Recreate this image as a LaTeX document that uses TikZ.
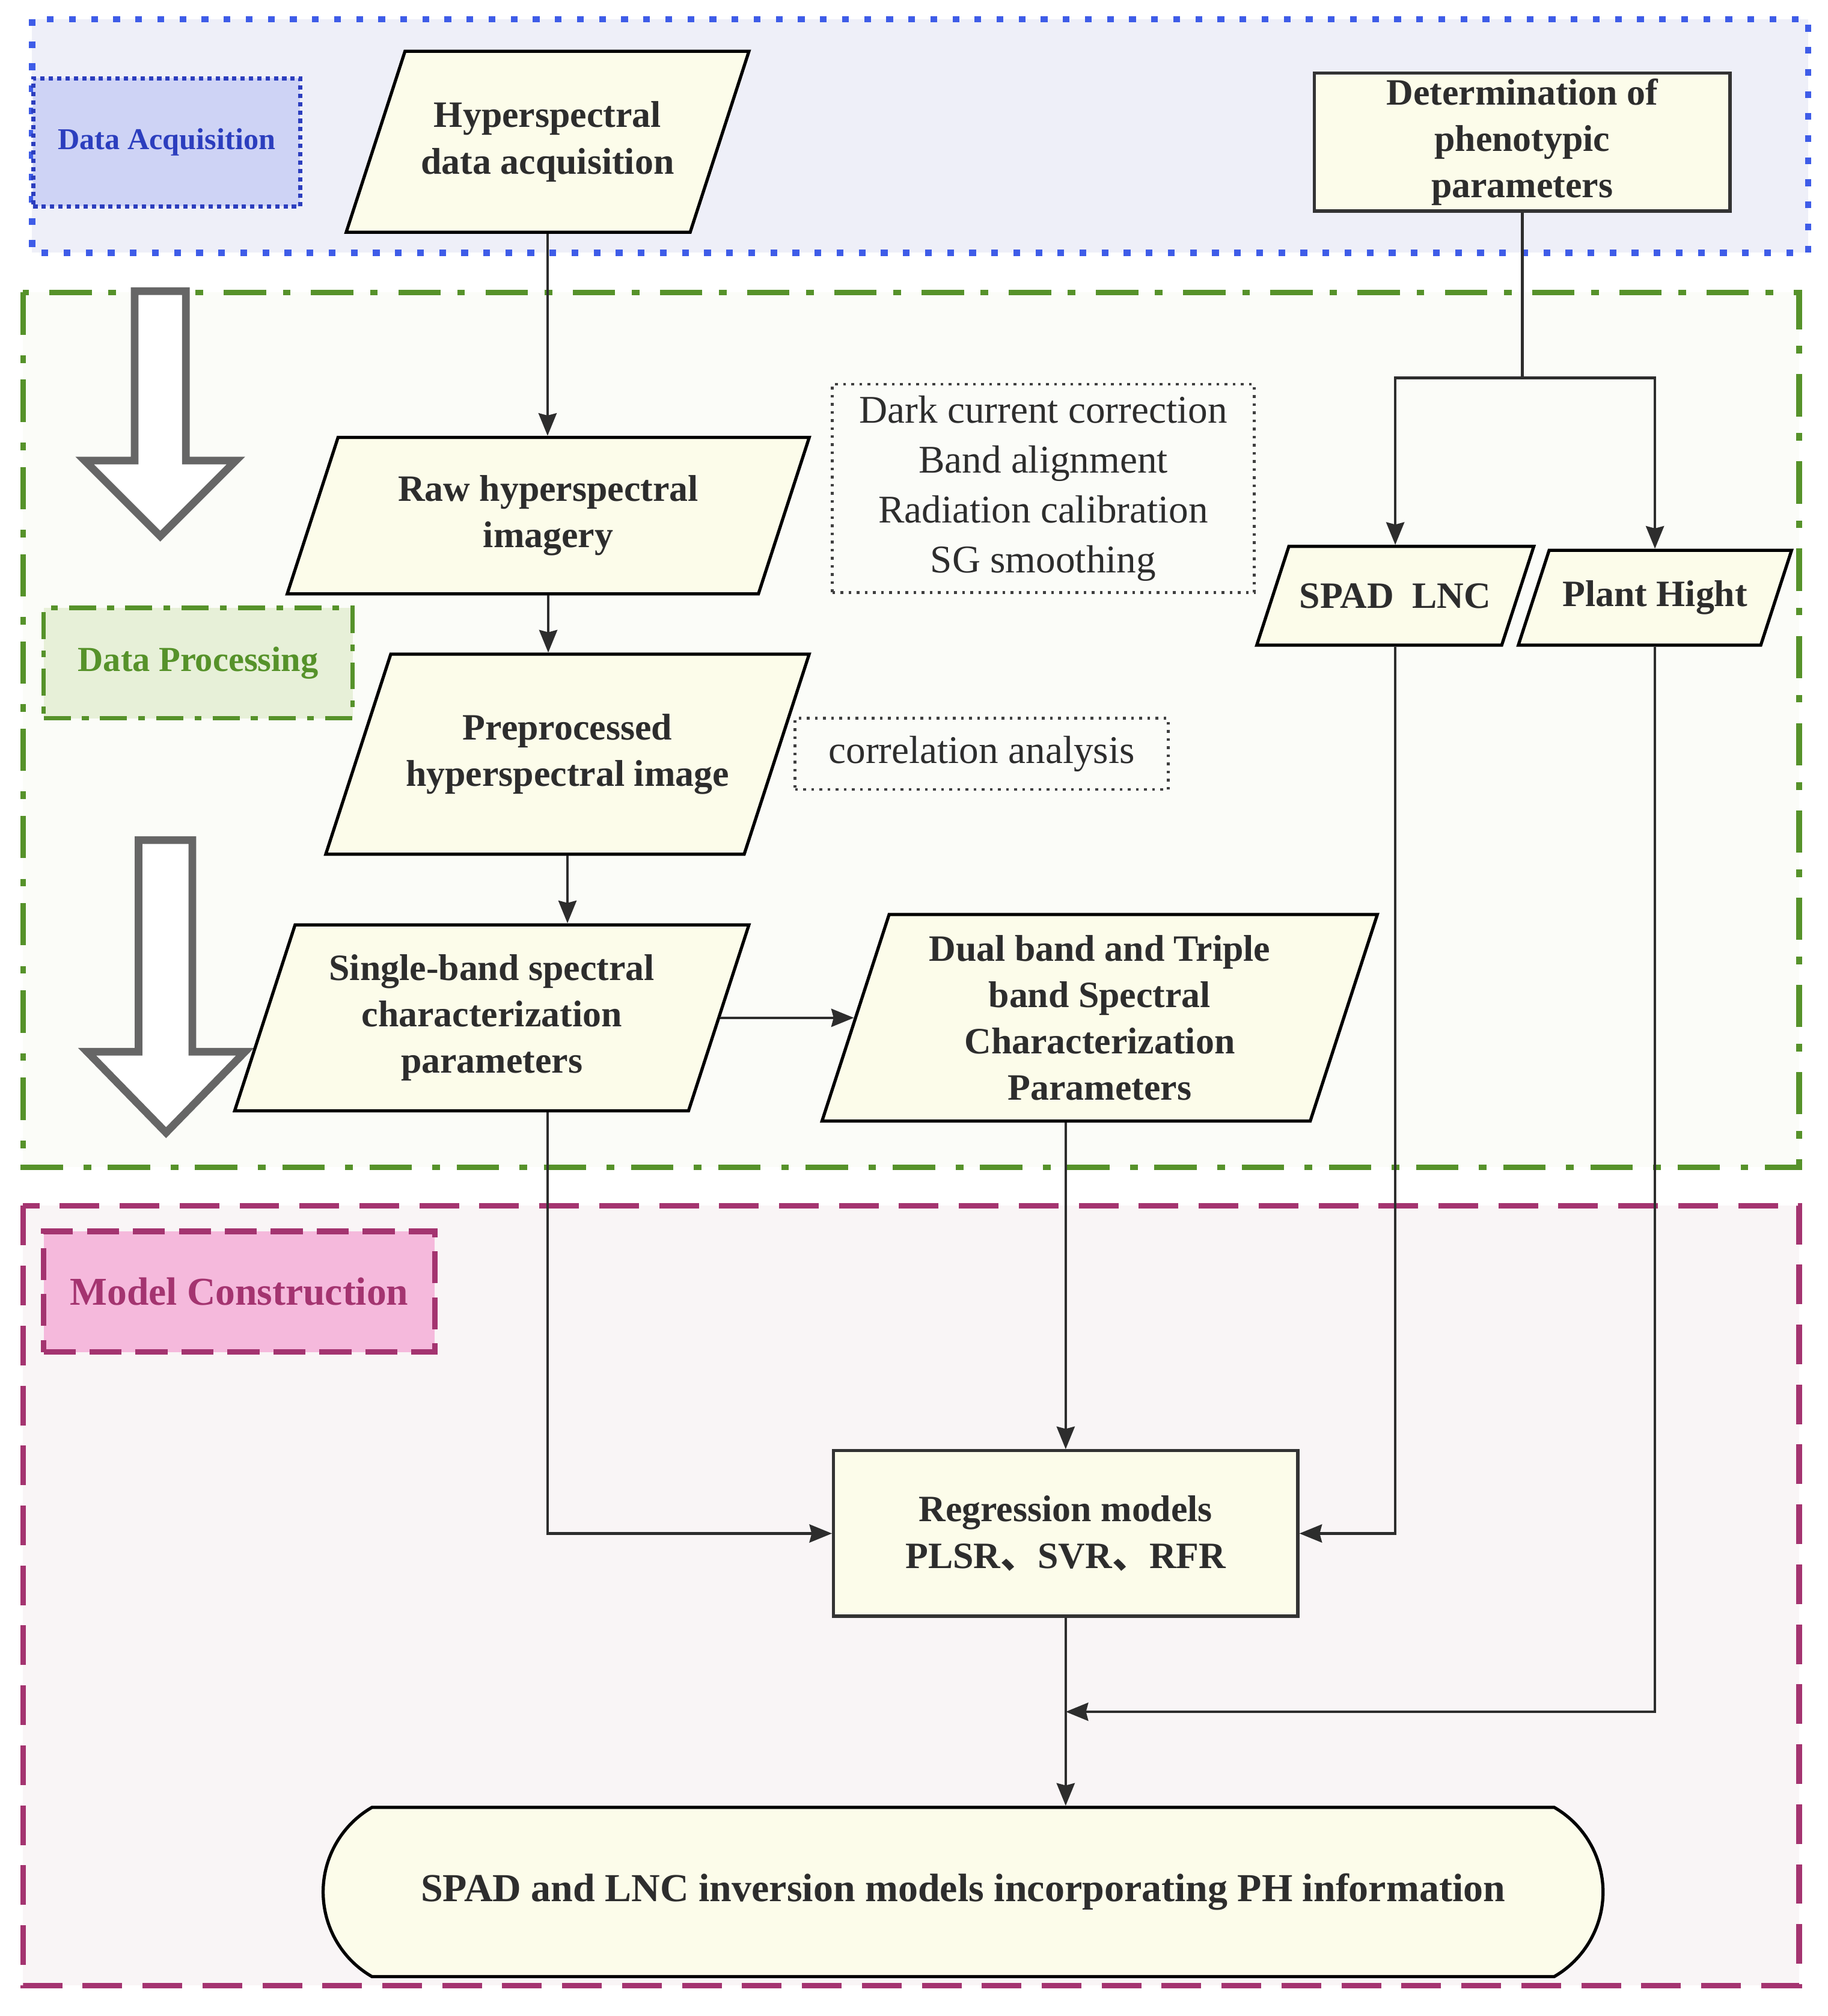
\documentclass[tikz,border=0pt]{standalone}
\usepackage{fontspec}
\setmainfont{Liberation Serif}
\newfontfamily\cjk{Noto Sans CJK SC}
\usetikzlibrary{arrows.meta,shapes.geometric,shapes.misc,positioning}
\definecolor{boxfill}{RGB}{252,252,234}
\definecolor{inkgray}{RGB}{45,45,45}
\definecolor{acqblue}{RGB}{62,92,232}
\definecolor{acqdark}{RGB}{44,62,190}
\definecolor{acqback}{RGB}{238,239,248}
\definecolor{acqlabel}{RGB}{206,211,245}
\definecolor{procgreen}{RGB}{86,146,42}
\definecolor{procback}{RGB}{251,252,248}
\definecolor{proclabel}{RGB}{231,240,216}
\definecolor{modelpink}{RGB}{164,52,112}
\definecolor{modelback}{RGB}{249,245,246}
\definecolor{modellabel}{RGB}{245,185,220}
\definecolor{arrowgray}{RGB}{102,102,102}
\newcommand\boxfont{\fontsize{16.5}{20.6}\selectfont\bfseries}
\newcommand\notefont{\fontsize{17.4}{22.2}\selectfont}
\tikzset{
    %Define standard arrow tip
    >={Stealth[length=10pt,width=8pt,inset=1pt]},
    %Define style for data boxes (body half width, half height)
    databox/.style 2 args={
           trapezium,
           trapezium left angle=72,
           trapezium right angle=108,
           draw=black, line width=1.4pt,
           fill=boxfill,
           minimum width=0pt, minimum height=0pt,
           inner xsep=#1, inner ysep=#2},
    datatext/.style={
           align=center,
           inner sep=0pt,
           text=inkgray,
           font=\boxfont},
    procbox/.style={
           rectangle,
           draw=black!80, line width=1.4pt,
           fill=boxfill,
           inner sep=0pt,
           align=center,
           text=inkgray,
           font=\boxfont},
    endbox/.style={
           rounded rectangle,
           rounded rectangle arc length=120,
           draw=black, line width=1.4pt,
           fill=boxfill,
           inner sep=0pt,
           text=inkgray,
           font=\fontsize{17.6}{20}\selectfont\bfseries},
    notebox/.style={
           rectangle,
           draw=black!75, line width=1.2pt,
           dash pattern=on 1.2pt off 2.4pt,
           inner sep=0pt,
           align=center,
           text=inkgray,
           font=\notefont},
    %Define styles for the stage frames
    acqframe/.style={
           draw=acqblue, fill=acqback, line width=2.8pt,
           dash pattern=on 3pt off 6.8pt},
    procframe/.style={
           draw=procgreen, fill=procback, line width=2.6pt,
           dash pattern=on 18.8pt off 9.1pt on 3.4pt off 7.4pt},
    modelframe/.style={
           draw=modelpink, fill=modelback, line width=2.5pt,
           dash pattern=on 17.6pt off 9pt},
    acqtag/.style={
           rectangle, draw=acqdark, fill=acqlabel, line width=1.9pt,
           dash pattern=on 1.9pt off 1.8pt,
           text=acqdark, font=\fontsize{13.4}{16}\selectfont\bfseries},
    proctag/.style={
           rectangle, draw=procgreen, fill=proclabel, line width=2pt,
           dash pattern=on 12pt off 5pt on 3pt off 5pt,
           text=procgreen, font=\fontsize{15.6}{18}\selectfont\bfseries},
    modeltag/.style={
           rectangle, draw=modelpink, fill=modellabel, line width=2.5pt,
           dash pattern=on 14.2pt off 6.2pt,
           text=modelpink, font=\fontsize{17.5}{20}\selectfont\bfseries},
    % Define arrow style
    pil/.style={
           ->,
           draw=inkgray,
           line width=1.2pt},
    hollow/.style={
           draw=arrowgray, fill=white, line width=3.4pt,
           line join=miter}
}
\begin{document}
\begin{tikzpicture}
\useasboundingbox (0,0) rectangle (28.5,-31.434);
 %frames
\draw[acqframe] (0.5,-0.3) rectangle (28.2,-3.94);
\draw[procframe] (0.36,-4.56) rectangle (28.06,-18.2);
\draw[modelframe] (0.36,-18.8) rectangle (28.06,-30.96);

\node[acqtag, minimum width=4.16cm, minimum height=2cm] (acqlbl) at (2.6,-2.22) {Data Acquisition};
\node[proctag, minimum width=4.82cm, minimum height=1.72cm] (proclbl) at (3.09,-10.34) {Data Processing};
\node[modeltag, minimum width=6.1cm, minimum height=1.88cm] (modellbl) at (3.73,-20.14) {Model Construction};

 %hollow arrows
\draw[hollow] (2.1,-4.54) -- (2.9,-4.54) -- (2.9,-7.18) -- (3.68,-7.18) -- (2.5,-8.36)
    -- (1.32,-7.18) -- (2.1,-7.18) -- cycle;
\draw[hollow] (2.16,-13.1) -- (3.0,-13.1) -- (3.0,-16.4) -- (3.82,-16.4) -- (2.59,-17.66)
    -- (1.36,-16.4) -- (2.16,-16.4) -- cycle;

 %nodes
\node[databox={2.224cm}{1.41cm}, label={[datatext]center:{Hyperspectral\\data acquisition}}] (hyper) at (8.54,-2.21) {};
\node[procbox, minimum width=6.48cm, minimum height=2.15cm] (det) at (23.74,-2.215) {Determination of\\phenotypic\\parameters};
\node[databox={3.278cm}{1.22cm}, label={[datatext]center:{Raw hyperspectral\\imagery}}] (raw) at (8.55,-8.04) {};
\node[notebox, minimum width=6.58cm, minimum height=3.25cm] (darknote) at (16.27,-7.615) {Dark current correction\\Band alignment\\Radiation calibration\\SG smoothing};
\node[databox={1.66cm}{0.77cm}, label={[datatext]center:{SPAD~~LNC}}] (spad) at (21.76,-9.29) {};
\node[databox={1.65cm}{0.74cm}, label={[datatext]center:{Plant Hight}}] (plant) at (25.81,-9.32) {};
\node[databox={2.756cm}{1.56cm}, label={[datatext]center:{Preprocessed\\hyperspectral image}}] (pre) at (8.85,-11.76) {};
\node[notebox, minimum width=5.82cm, minimum height=1.11cm] (corrnote) at (15.31,-11.755) {correlation analysis};
\node[databox={3.068cm}{1.45cm}, label={[datatext]center:{Single-band spectral\\characterization\\parameters}}] (single) at (7.67,-15.87) {};
\node[databox={3.284cm}{1.61cm}, label={[datatext]center:{Dual band and Triple\\band Spectral\\Characterization\\Parameters}}] (dual) at (17.15,-15.87) {};
\node[procbox, minimum width=7.24cm, minimum height=2.58cm] (reg) at (16.62,-23.91) {Regression models\\PLSR{\cjk 、}SVR{\cjk 、}RFR};
\node[endbox, minimum width=19.96cm, minimum height=2.64cm] (final) at (15.02,-29.5) {SPAD and LNC inversion models incorporating PH information};

\coordinate (split) at (23.74,-5.89);
\coordinate (join) at (16.62,-26.69);

 %connectors
\draw[pil] (hyper.south) -- (hyper.south |- raw.north);
\draw[pil] (raw.south) -- (raw.south |- pre.north);
\draw[pil] (pre.south) -- (pre.south |- single.north);
\draw[pil] (single.east) -- (dual.west);
\draw[pil] (single.south -| hyper.south) |- (reg.west);
\draw[pil] (dual.south -| reg.north) -- (reg.north);
\draw[pil, -] (det.south) -- (split);
\draw[pil] (split) -| (spad.north);
\draw[pil] (split) -| (plant.north);
\draw[pil] (spad.south) |- (reg.east);
\draw[pil] (plant.south) |- (join);
\draw[pil] (reg.south) -- (reg.south |- final.north);
\end{tikzpicture}
\end{document}
